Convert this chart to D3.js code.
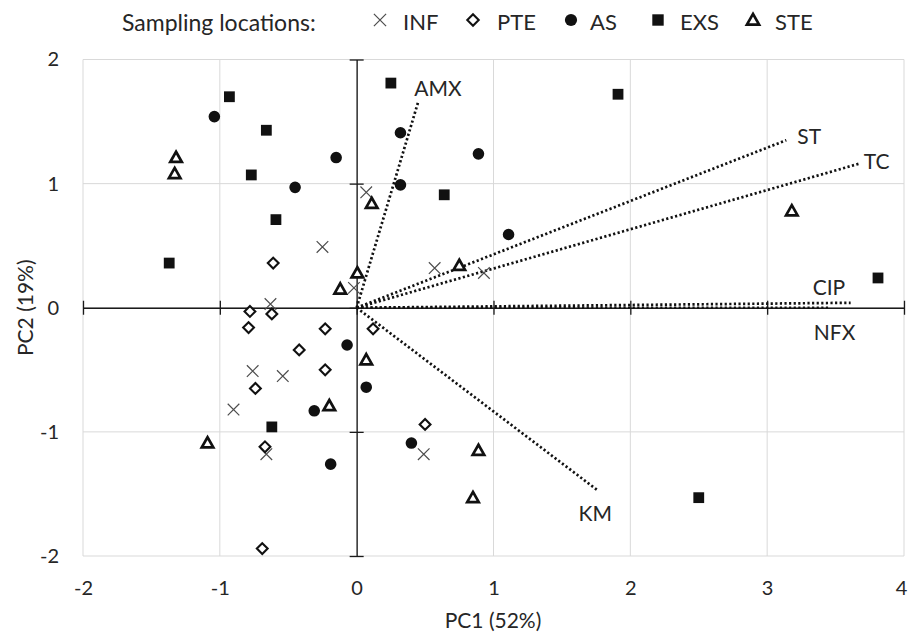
<!DOCTYPE html>
<html>
<head>
<meta charset="utf-8">
<script src="https://cdn.jsdelivr.net/npm/d3@7"></script>
<style>
  body { margin: 0; background: #fff; }
  svg text { font-family: Lato, "Open Sans", sans-serif; fill: #262626; }
</style>
</head>
<body>
<svg width="908" height="634"></svg>
<script>
// sample scores (PC1, PC2) per sampling location
var groups = ["INF", "PTE", "AS", "EXS", "STE"];

var infX = [0.07, -0.25, -0.02, -0.63, 0.57, 0.93, -0.76, -0.54, -0.90, -0.66, 0.49];
var infY = [0.93, 0.49, 0.16, 0.03, 0.32, 0.28, -0.51, -0.55, -0.82, -1.18, -1.18];

var pteX = [-0.61, -0.78, -0.62, -0.79, -0.23, 0.12, -0.42, -0.23, -0.74, -0.67, 0.50, -0.69];
var pteY = [0.36, -0.03, -0.05, -0.16, -0.17, -0.17, -0.34, -0.50, -0.65, -1.12, -0.94, -1.94];

var asX = [-1.04, -0.15, -0.45, 0.32, 0.89, 0.32, 1.11, -0.07, 0.07, -0.31, -0.19, 0.40];
var asY = [1.54, 1.21, 0.97, 1.41, 1.24, 0.99, 0.59, -0.30, -0.64, -0.83, -1.26, -1.09];

var exsX = [-0.93, -0.66, -0.77, -0.59, -1.37, 0.25, 0.64, 1.91, 3.81, -0.62, 2.50];
var exsY = [1.70, 1.43, 1.07, 0.71, 0.36, 1.81, 0.91, 1.72, 0.24, -0.96, -1.53];

var steX = [-1.32, -1.33, 0.11, 0.005, -0.12, 0.75, 3.18, 0.07, -0.20, -1.09, 0.89, 0.85];
var steY = [1.21, 1.08, 0.84, 0.28, 0.15, 0.34, 0.78, -0.42, -0.79, -1.09, -1.15, -1.53];

// loading vectors
var varNames = ["AMX", "ST", "TC", "CIP", "NFX", "KM"];
var varX = [0.45, 3.14, 3.67, 3.61, 3.45, 1.76];
var varY = [1.66, 1.35, 1.16, 0.04, 0.0, -1.47];

var xTicks = [-2, -1, 0, 1, 2, 3, 4];
var yTicks = [-2, -1, 0, 1, 2];

// label nudges (px) for the vector names
var labelDx = [-4, 11, 5, -38, -15, -19];
var labelDy = [-14, -5, -3, -16, 24, 22];

var svg = d3.select("svg");

var x = d3.scaleLinear().domain([-2, 4]).range([83, 904]);
var y = d3.scaleLinear().domain([-2, 2]).range([556, 59.5]);

// gridlines
svg.append("g")
  .selectAll("line")
  .data(xTicks)
  .join("line")
  .attr("x1", d => x(d)).attr("x2", d => x(d))
  .attr("y1", y(2)).attr("y2", y(-2))
  .attr("stroke", "#d9d9d9");
svg.append("g")
  .selectAll("line")
  .data(yTicks)
  .join("line")
  .attr("x1", x(-2)).attr("x2", x(4))
  .attr("y1", d => y(d)).attr("y2", d => y(d))
  .attr("stroke", "#d9d9d9");

// axes through the origin, with cross ticks
var xAxis = svg.append("g")
  .attr("transform", "translate(0," + y(0) + ")")
  .call(d3.axisBottom(x).tickValues(xTicks).tickSize(7).tickSizeOuter(0).tickFormat(""));
xAxis.selectAll(".tick line").attr("y1", -7);

var yAxis = svg.append("g")
  .attr("transform", "translate(" + x(0) + ",0)")
  .call(d3.axisLeft(y).tickValues(yTicks).tickSize(7).tickSizeOuter(0).tickFormat(""));
yAxis.selectAll(".tick line").attr("x1", 7);

[xAxis, yAxis].forEach(function(a) {
  a.selectAll(".domain, .tick line").attr("stroke", "#1a1a1a").attr("stroke-width", 1.3);
});

// tick labels at the plot edges
var xLab = svg.append("g")
  .attr("transform", "translate(0," + y(-2) + ")")
  .call(d3.axisBottom(x).tickValues(xTicks).tickSize(0).tickPadding(25).tickFormat(d => String(d)));
var yLab = svg.append("g")
  .attr("transform", "translate(" + x(-2) + ",0)")
  .call(d3.axisLeft(y).tickValues(yTicks).tickSize(0).tickPadding(24).tickFormat(d => String(d)));
[xLab, yLab].forEach(function(a) {
  a.select(".domain").remove();
  a.selectAll(".tick line").remove();
  a.attr("font-family", null).attr("font-size", null);
  a.selectAll("text").attr("font-size", 20).attr("fill", "#262626");
});
// keep the last x label inside the frame
xLab.selectAll(".tick text").filter(d => d === 4).attr("x", -3);

// axis titles
svg.append("text")
  .attr("x", 493).attr("y", 628)
  .attr("text-anchor", "middle")
  .attr("font-size", 21)
  .text("PC1 (52%)");
svg.append("text")
  .attr("transform", "translate(24," + y(0) + ") rotate(-90)")
  .attr("text-anchor", "middle")
  .attr("dominant-baseline", "central")
  .attr("font-size", 21)
  .text("PC2 (19%)");

// loading vectors
var vecs = varNames.map((n, i) => ({ name: n, x: varX[i], y: varY[i], dx: labelDx[i], dy: labelDy[i] }));
svg.append("g")
  .selectAll("line")
  .data(vecs)
  .join("line")
  .attr("x1", x(0)).attr("y1", y(0))
  .attr("x2", d => x(d.x)).attr("y2", d => y(d.y))
  .attr("stroke", "#111")
  .attr("stroke-width", 2.7)
  .attr("stroke-dasharray", "2.2,2.4");
svg.append("g")
  .selectAll("text")
  .data(vecs)
  .join("text")
  .attr("x", d => x(d.x) + d.dx)
  .attr("y", d => y(d.y) + d.dy)
  .attr("dominant-baseline", "central")
  .attr("font-size", 21)
  .text(d => d.name);

// marker shapes
function shape(type, r) {
  var p = d3.path();
  if (type === "INF") {
    p.moveTo(-r, -r); p.lineTo(r, r);
    p.moveTo(-r, r); p.lineTo(r, -r);
  } else if (type === "PTE") {
    p.moveTo(0, -r); p.lineTo(r, 0); p.lineTo(0, r); p.lineTo(-r, 0); p.closePath();
  } else if (type === "AS") {
    p.arc(0, 0, r, 0, 2 * Math.PI);
  } else if (type === "EXS") {
    p.rect(-r, -r, 2 * r, 2 * r);
  } else {
    p.moveTo(0, -r * 1.05); p.lineTo(r * 1.05, r * 0.8); p.lineTo(-r * 1.05, r * 0.8); p.closePath();
  }
  return p.toString();
}
var markStyle = {
  INF: { r: 5.8, fill: "none", stroke: "#4d4d4d", sw: 1.2 },
  PTE: { r: 5.4, fill: "#fff", stroke: "#111", sw: 2.1 },
  AS:  { r: 5.8, fill: "#111", stroke: "none", sw: 0 },
  EXS: { r: 5.4, fill: "#111", stroke: "none", sw: 0 },
  STE: { r: 5.5, fill: "#fff", stroke: "#111", sw: 2.7 }
};

var groupX = { INF: infX, PTE: pteX, AS: asX, EXS: exsX, STE: steX };
var groupY = { INF: infY, PTE: pteY, AS: asY, EXS: exsY, STE: steY };

// draw order as in the source chart
groups.forEach(function(g) {
  var st = markStyle[g];
  var pts = groupX[g].map((v, i) => [v, groupY[g][i]]);
  svg.append("g")
    .selectAll("path")
    .data(pts)
    .join("path")
    .attr("transform", d => "translate(" + x(d[0]) + "," + y(d[1]) + ")")
    .attr("d", shape(g, st.r))
    .attr("fill", st.fill)
    .attr("stroke", st.stroke)
    .attr("stroke-width", st.sw)
    .attr("stroke-linejoin", "miter");
});

// legend
svg.append("text")
  .attr("x", 122).attr("y", 22)
  .attr("dominant-baseline", "central")
  .attr("font-size", 23)
  .text("Sampling locations:");
var legX = [380, 473, 571, 658, 753];
var leg = svg.append("g")
  .selectAll("g")
  .data(groups)
  .join("g")
  .attr("transform", (d, i) => "translate(" + legX[i] + ",20)");
leg.append("path")
  .attr("d", d => shape(d, markStyle[d].r + 0.3))
  .attr("fill", d => markStyle[d].fill)
  .attr("stroke", d => markStyle[d].stroke)
  .attr("stroke-width", d => markStyle[d].sw);
leg.append("text")
  .attr("x", (d, i) => [23, 24, 19, 22, 22][i])
  .attr("y", 1)
  .attr("dominant-baseline", "central")
  .attr("font-size", 22)
  .text(d => d);
</script>
</body>
</html>
